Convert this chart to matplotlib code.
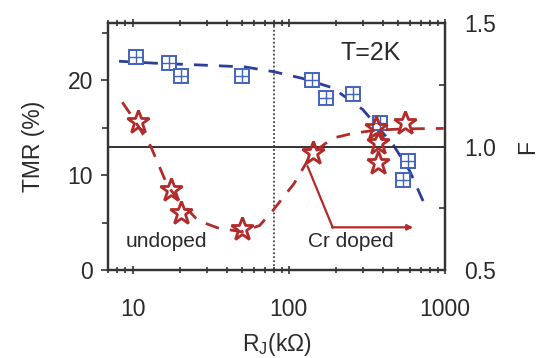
import numpy as np
import matplotlib
matplotlib.use('Agg')
import matplotlib.pyplot as plt
from matplotlib.ticker import FixedLocator, NullFormatter

plt.rcParams['font.family'] = ['Liberation Sans', 'DejaVu Sans']

# squares: TMR (%) vs R_J (kOhm), left axis
sq_r = [10.5, 17.2, 20.5, 50, 140, 173, 257, 382, 581, 540]
sq_tmr = [22.4, 21.8, 20.4, 20.4, 20.0, 18.1, 18.5, 15.5, 11.5, 9.5]
# stars: F vs R_J, right axis
star_r = [10.8, 17.7, 20.5, 50, 142, 363, 372, 372, 553]
star_f = [1.10, 0.824, 0.732, 0.665, 0.973, 1.074, 1.014, 0.932, 1.095]
# dashed guide lines
fit_tmr_r = [8.2, 13.8, 27.6, 52.5, 80, 122, 191, 298, 466, 596, 727]
fit_tmr = [22.0, 21.8, 21.6, 21.4, 20.9, 20.2, 19.2, 16.9, 13.2, 10.4, 7.2]
fit_f_r = [8.6, 10, 13.1, 16.8, 20, 26.3, 35.4, 50, 65, 78, 108, 140, 190, 257, 363, 550, 980]
fit_f = [1.18, 1.12, 1.0, 0.84, 0.78, 0.70, 0.67, 0.655, 0.68, 0.736, 0.85, 0.97, 1.034, 1.054, 1.067, 1.072, 1.074]

blue = '#4262c0'
dblue = '#2a3f9a'
red = '#b22a2a'
dark = '#333333'
txt = '#2a2a2a'

fig = plt.figure(figsize=(5.44, 3.58), dpi=100)
ax = fig.add_axes([108.3/544, 1 - 270/358, 336.7/544, 246.7/358])
ax2 = ax.twinx()

ax.set_xscale('log')
ax.set_xlim(7, 1000)
ax.set_ylim(0, 26)
ax2.set_ylim(0.5, 1.5)

# reference lines
ax2.axhline(1.0, color=dark, lw=1.4, zorder=1)
ax.axvline(80, color='#444444', lw=1.3, ls=(0, (1, 1.2)), zorder=1)

# TMR
ax.plot(fit_tmr_r, fit_tmr, ls=(0, (5, 4)), color=dblue, lw=2)
ax.plot(sq_r, sq_tmr, ls='none', marker='s', ms=10, mfc='white', mec=blue, mew=1.4)
ax.plot(sq_r, sq_tmr, ls='none', marker='+', ms=10, mec=blue, mew=1.0)

# F
ax2.plot(fit_f_r, fit_f, ls=(0, (5, 4)), color=red, lw=2)
ax2.plot(star_r, star_f, ls='none', marker='*', ms=17, mfc='none', mec=red, mew=2.0)

# Cr doped pointer
ax2.plot([132, 191], [0.92, 0.673], color=red, lw=1.6)
ax2.annotate('', xy=(625, 0.673), xytext=(189, 0.673),
             arrowprops=dict(arrowstyle='-|>', color=red, lw=1.6,
                             mutation_scale=8, shrinkA=0, shrinkB=0))

ax.text(336, 22.9, 'T=2K', fontsize=18, ha='center', va='center', color=txt)
ax.text(16.5, 3.0, 'undoped', fontsize=15, ha='center', va='center', color=txt)
ax.text(250, 3.0, 'Cr doped', fontsize=15, ha='center', va='center', color=txt)

# ticks
ax.set_xticks([10, 100, 1000])
ax.set_xticklabels(['10', '100', '1000'])
ax.xaxis.set_minor_formatter(NullFormatter())
ax.set_yticks([0, 10, 20])
ax.yaxis.set_minor_locator(FixedLocator([5, 15, 25]))
ax2.set_yticks([0.5, 1.0, 1.5])
ax2.set_yticklabels(['0.5', '1.0', '1.5'])
ax2.yaxis.set_minor_locator(FixedLocator([0.75, 1.25]))

ax.tick_params(axis='x', which='both', direction='inout', top=True, labelsize=16.5, pad=17,
               color=dark, width=1.2, labelcolor=txt)
ax.tick_params(axis='x', which='major', length=6)
ax.tick_params(axis='x', which='minor', length=4)
ax.tick_params(axis='y', which='both', direction='out', labelsize=16.5, pad=6, color=dark,
               width=1.2, right=False, labelcolor=txt)
ax.tick_params(axis='y', which='major', length=5)
ax.tick_params(axis='y', which='minor', length=4)
ax2.tick_params(axis='y', which='both', direction='in', labelsize=16.5, pad=14, color=dark,
                width=1.2, labelcolor=txt)
ax2.tick_params(axis='y', which='major', length=5)
ax2.tick_params(axis='y', which='minor', length=4)

for a in (ax, ax2):
    for s in a.spines.values():
        s.set_linewidth(1.6)
        s.set_color(dark)

ax.set_ylabel('TMR (%)', fontsize=16.5, labelpad=16, color=txt)
ax2.set_ylabel('F', fontsize=16.5, labelpad=14, rotation=90, color=txt)
ax.set_xlabel(r'R$_\mathregular{J}$(kΩ)', fontsize=16.5, labelpad=7, color=txt)

fig.savefig('out.png', dpi=100)
